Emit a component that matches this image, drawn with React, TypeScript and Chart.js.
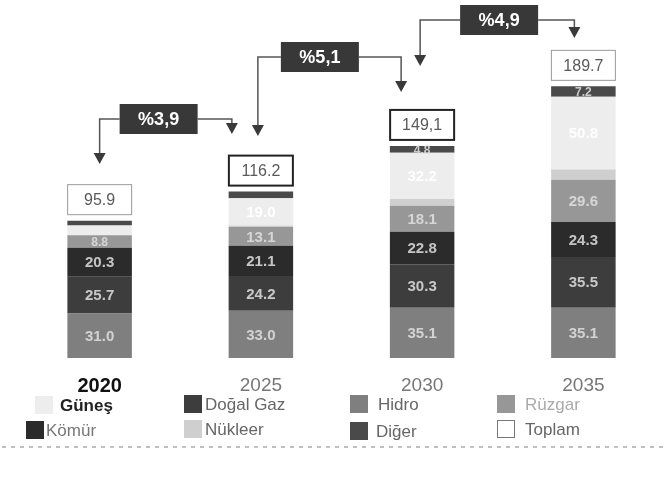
import React, { useEffect, useRef } from "react";
import { Chart, registerables } from "chart.js";
Chart.register(...registerables);

const years = ["2020", "2025", "2030", "2035"];
const hidro = [31.0, 33.0, 35.1, 35.1];
const dogalGaz = [25.7, 24.2, 30.3, 35.5];
const komur = [20.3, 21.1, 22.8, 24.3];
const ruzgar = [8.8, 13.1, 18.1, 29.6];
const nukleer = [0, 1.2, 4.8, 7.2];
const gunes = [6.7, 19.0, 32.2, 50.8];
const diger = [3.4, 4.6, 4.8, 7.2];
const toplamLabels = ["95.9", "116.2", "149,1", "189.7"];
const growthLabels = ["%3,9", "%5,1", "%4,9"];

const COLORS = {
  hidro: "#7f7f7f",
  gaz: "#3d3d3d",
  komur: "#2b2b2b",
  ruzgar: "#979797",
  nukleer: "#cfcfcf",
  gunes: "#ededed",
  diger: "#4a4a4a",
};

const FONT = "'Liberation Sans', Arial, sans-serif";

const overlay = {
  id: "overlay",
  afterDatasetsDraw(chart: any) {
    const ctx = chart.ctx;
    const ds = chart.data.datasets;
    const minShow = [0, 0, 0, 5, 999, 10, 4.7];
    ctx.save();
    ctx.textAlign = "center";
    ctx.textBaseline = "middle";
    ds.forEach((d: any, i: number) => {
      const meta = chart.getDatasetMeta(i);
      meta.data.forEach((el: any, j: number) => {
        const v = d.data[j];
        if (v < minShow[i]) return;
        const cy = (el.y + el.base) / 2;
        ctx.font = `bold ${v < 10 ? 12 : 15}px ${FONT}`;
        ctx.fillStyle = i === 5 ? "rgba(255,255,255,0.95)" : "rgba(225,225,225,0.85)";
        ctx.fillText(v.toFixed(1), el.x, cy + 1);
      });
    });
    const topMeta = chart.getDatasetMeta(ds.length - 1);
    const xs: number[] = [];
    topMeta.data.forEach((el: any, j: number) => {
      xs.push(el.x);
      const w = 64, h = 30;
      const bottom = el.y - 6;
      const thick = j === 1 || j === 2;
      ctx.fillStyle = "#ffffff";
      ctx.fillRect(el.x - w / 2, bottom - h, w, h);
      ctx.strokeStyle = thick ? "#222" : "#999";
      ctx.lineWidth = thick ? 2 : 1;
      ctx.strokeRect(el.x - w / 2, bottom - h, w, h);
      ctx.fillStyle = "#5a5a5a";
      ctx.font = `16px ${FONT}`;
      ctx.fillText(toplamLabels[j], el.x, bottom - h / 2 + 1);
    });
    const g = [
      { cx: xs[0] + 59, cy: 119, lx: xs[0], lt: 164, rx: xs[1] - 29, rt: 134 },
      { cx: xs[1] + 59, cy: 57, lx: xs[1] - 3, lt: 136, rx: xs[2] - 21, rt: 92 },
      { cx: xs[2] + 77, cy: 20, lx: xs[2] - 2, lt: 66, rx: xs[3] - 9, rt: 38 },
    ];
    g.forEach((b, k) => {
      const w = 78, h = 30;
      ctx.strokeStyle = "#555";
      ctx.lineWidth = 1.5;
      ctx.beginPath();
      ctx.moveTo(b.cx - w / 2, b.cy);
      ctx.lineTo(b.lx, b.cy);
      ctx.lineTo(b.lx, b.lt - 8);
      ctx.moveTo(b.cx + w / 2, b.cy);
      ctx.lineTo(b.rx, b.cy);
      ctx.lineTo(b.rx, b.rt - 8);
      ctx.stroke();
      ctx.fillStyle = "#3a3a3a";
      [[b.lx, b.lt], [b.rx, b.rt]].forEach(([ax, tip]) => {
        ctx.beginPath();
        ctx.moveTo(ax - 6, tip - 11);
        ctx.lineTo(ax + 6, tip - 11);
        ctx.lineTo(ax, tip);
        ctx.closePath();
        ctx.fill();
      });
      ctx.fillStyle = "#383838";
      ctx.fillRect(b.cx - w / 2, b.cy - h / 2, w, h);
      ctx.fillStyle = "#ffffff";
      ctx.font = `bold 18px ${FONT}`;
      ctx.fillText(growthLabels[k], b.cx, b.cy + 1);
    });
    years.forEach((y, j) => {
      ctx.font = j === 0 ? `bold 20px ${FONT}` : `19px ${FONT}`;
      ctx.fillStyle = j === 0 ? "#111" : "#777";
      ctx.fillText(y, xs[j], 386);
    });
    const items = [
      { label: "Güneş", color: COLORS.gunes, sx: 35, tx: 60, y: 405, tc: "#222", bold: true },
      { label: "Doğal Gaz", color: COLORS.gaz, sx: 184, tx: 205, y: 404, tc: "#666" },
      { label: "Hidro", color: COLORS.hidro, sx: 350, tx: 378, y: 404, tc: "#666" },
      { label: "Rüzgar", color: COLORS.ruzgar, sx: 497, tx: 525, y: 404, tc: "#aaa" },
      { label: "Kömür", color: COLORS.komur, sx: 26, tx: 46, y: 430, tc: "#777" },
      { label: "Nükleer", color: COLORS.nukleer, sx: 184, tx: 205, y: 429, tc: "#666" },
      { label: "Diğer", color: COLORS.diger, sx: 350, tx: 376, y: 431, tc: "#666" },
      { label: "Toplam", color: "#fff", sx: 497, tx: 525, y: 429, tc: "#666", border: true },
    ];
    ctx.textAlign = "left";
    items.forEach((it: any) => {
      ctx.fillStyle = it.color;
      ctx.fillRect(it.sx, it.y - 9, 18, 18);
      if (it.border) {
        ctx.strokeStyle = "#777";
        ctx.lineWidth = 1;
        ctx.strokeRect(it.sx + 0.5, it.y - 8.5, 17, 17);
      }
      ctx.fillStyle = it.tc;
      ctx.font = `${it.bold ? "bold " : ""}17px ${FONT}`;
      ctx.fillText(it.label, it.tx, it.y + 1);
    });
    ctx.strokeStyle = "#aaa";
    ctx.lineWidth = 1.5;
    ctx.setLineDash([4, 5]);
    ctx.beginPath();
    ctx.moveTo(2, 447);
    ctx.lineTo(664, 447);
    ctx.stroke();
    ctx.setLineDash([]);
    ctx.restore();
  },
};

export default function App() {
  const ref = useRef<HTMLCanvasElement>(null);
  useEffect(() => {
    if (!ref.current) return;
    const mk = (label: string, data: number[], color: string) => ({
      label,
      data,
      backgroundColor: color,
      borderWidth: 0,
      stack: "s",
      categoryPercentage: 0.8,
      barPercentage: 0.5,
    });
    const chart = new Chart(ref.current, {
      type: "bar",
      data: {
        labels: years,
        datasets: [
          mk("Hidro", hidro, COLORS.hidro),
          mk("Doğal Gaz", dogalGaz, COLORS.gaz),
          mk("Kömür", komur, COLORS.komur),
          mk("Rüzgar", ruzgar, COLORS.ruzgar),
          mk("Nükleer", nukleer, COLORS.nukleer),
          mk("Güneş", gunes, COLORS.gunes),
          mk("Diğer", diger, COLORS.diger),
        ],
      },
      options: {
        responsive: false,
        animation: false,
        layout: { padding: { left: 19, right: 0, top: 0, bottom: 121 } },
        plugins: { legend: { display: false }, tooltip: { enabled: false } },
        scales: {
          x: { stacked: true, display: false },
          y: { stacked: true, display: false, min: 0, max: 250 },
        },
      },
      plugins: [overlay],
    });
    return () => chart.destroy();
  }, []);
  return (
    <div style={{ position: "absolute", left: 0, top: 0, width: 664, height: 479, background: "#fff" }}>
      <canvas ref={ref} width={664} height={479} style={{ display: "block" }} />
    </div>
  );
}
